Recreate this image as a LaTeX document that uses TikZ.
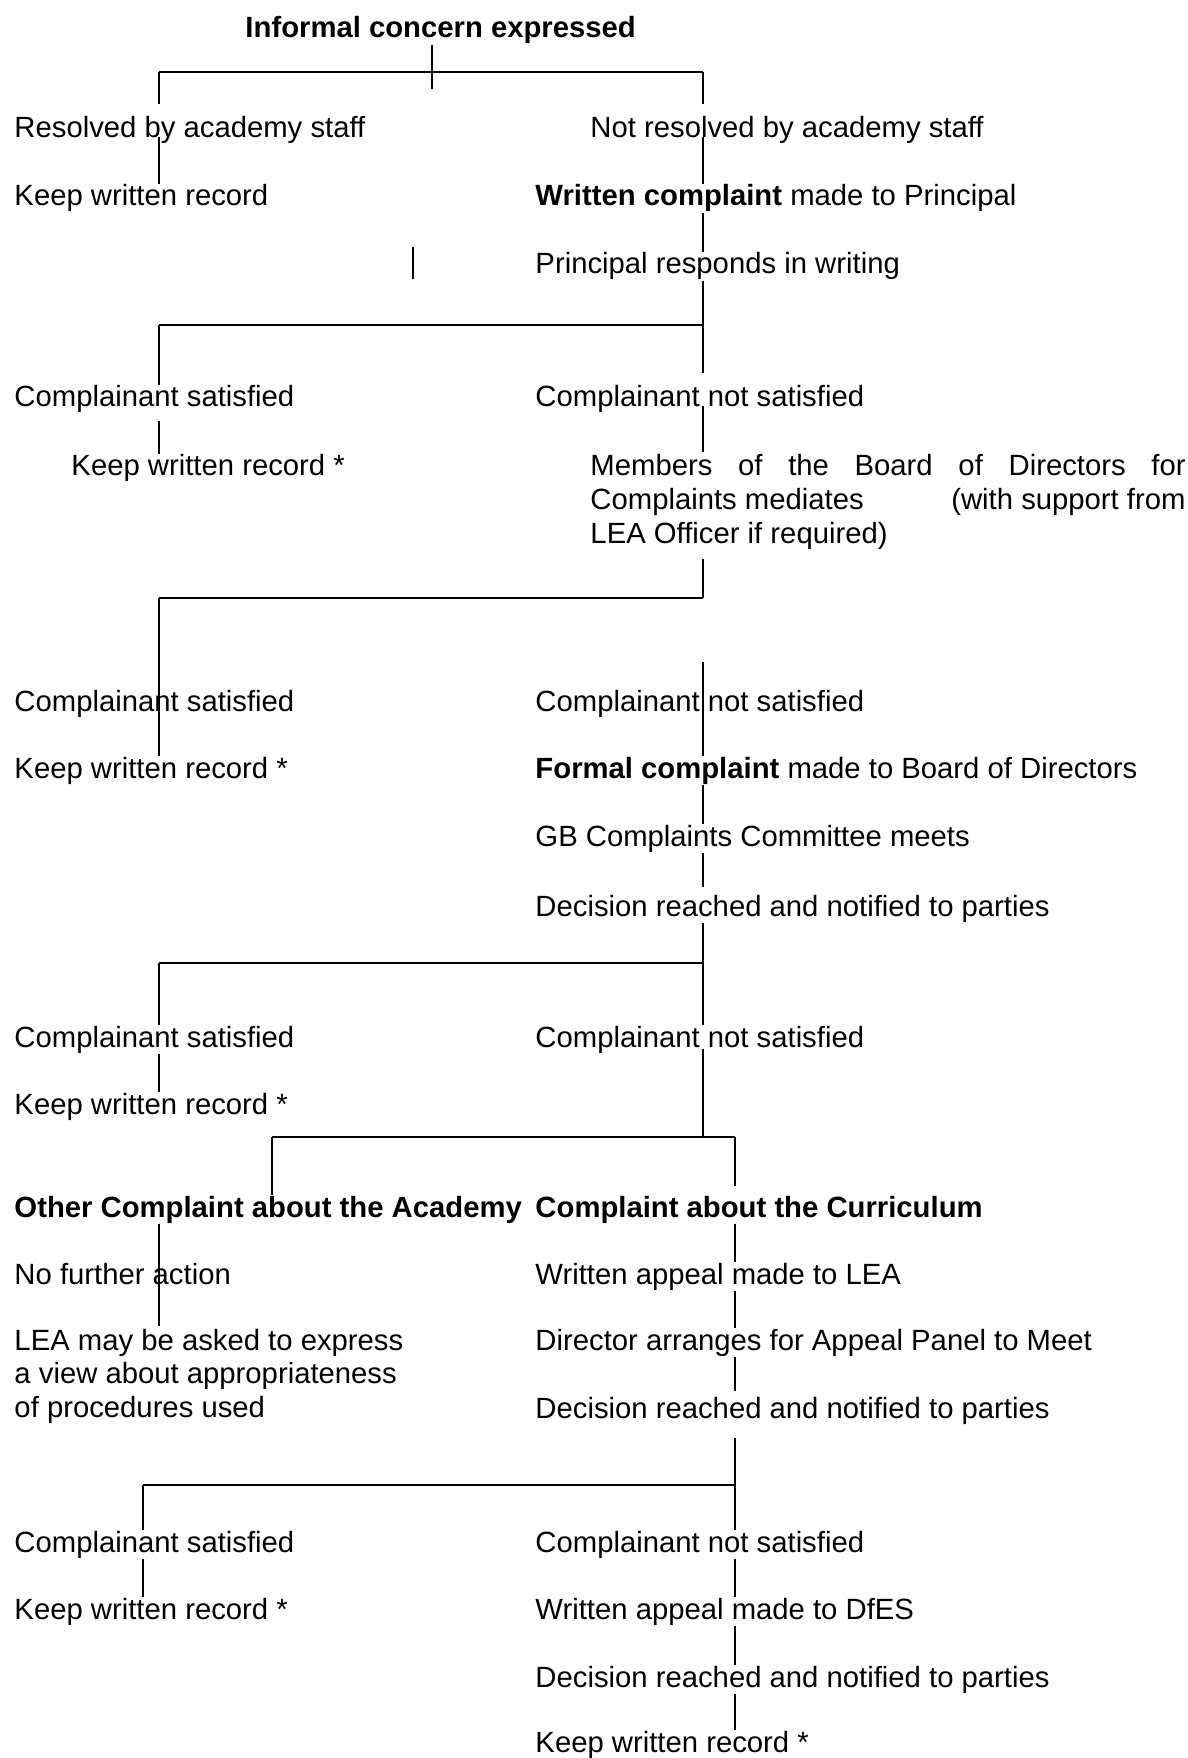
\documentclass[tikz,border=0pt]{standalone}
\usepackage{fontspec}
\setmainfont{Liberation Sans}
\newlength{\memwd}
\setlength{\memwd}{244pt}

\begin{document}
\begin{tikzpicture}[x=0.41pt,y=-0.41pt,
	txt/.style={anchor=base west, inner sep=0pt, font=\fontsize{12}{13.8}\selectfont},
	link/.style={line width=0.55pt},
	bar/.style={line width=0.95pt}]
			\useasboundingbox (0,0) rectangle (1188,1758);
			% texts
			\node[txt] at (245,38) (inf) {\textbf{Informal concern expressed}};
			\node[txt] at (14,138) (res1) {Resolved by academy staff};
			\node[txt] at (590,138) (nres1) {Not resolved by academy staff};
			\node[txt] at (14,206) (kwr1) {Keep written record};
			\node[txt] at (535,206) (wc1) {\textbf{Written complaint} made to Principal};
			\node[txt] at (535,274) (prw) {Principal responds in writing};
			\node[txt] at (14,407) (cs1) {Complainant satisfied};
			\node[txt] at (535,407) (cns1) {Complainant not satisfied};
			\node[txt] at (71,476) (kwr2) {Keep written record *};
			\node[txt] at (590,476) (mem) {\begin{tabular}[t]{@{}l@{}}\makebox[\memwd][s]{Members of the Board of Directors for}\\ \makebox[\memwd][s]{Complaints mediates\hfill(with support from}\\ LEA Officer if required)\end{tabular}};
			\node[txt] at (14,711) (cs2) {Complainant satisfied};
			\node[txt] at (535,711) (cns2) {Complainant not satisfied};
			\node[txt] at (14,778) (kwr3) {Keep written record *};
			\node[txt] at (535,778) (fc) {\textbf{Formal complaint} made to Board of Directors};
			\node[txt] at (535,846) (gb) {GB Complaints Committee meets};
			\node[txt] at (535,916) (dec1) {Decision reached and notified to parties};
			\node[txt] at (14,1047) (cs3) {Complainant satisfied};
			\node[txt] at (535,1047) (cns3) {Complainant not satisfied};
			\node[txt] at (14,1114) (kwr4) {Keep written record *};
			\node[txt] at (14,1217) (oth) {\textbf{Other Complaint about the Academy}};
			\node[txt] at (535,1217) (cur) {\textbf{Complaint about the Curriculum}};
			\node[txt] at (14,1284) (nfa) {No further action};
			\node[txt] at (535,1284) (wal) {Written appeal made to LEA};
			\node[txt] at (14,1350) (lea) {\begin{tabular}[t]{@{}l@{}}LEA may be asked to express\\ a view about appropriateness\\ of procedures used\end{tabular}};
			\node[txt] at (535,1350) (dir) {Director arranges for Appeal Panel to Meet};
			\node[txt] at (535,1418) (dec2) {Decision reached and notified to parties};
			\node[txt] at (14,1552) (cs4) {Complainant satisfied};
			\node[txt] at (535,1552) (cns4) {Complainant not satisfied};
			\node[txt] at (14,1619) (kwr5) {Keep written record *};
			\node[txt] at (535,1619) (wad) {Written appeal made to DfES};
			\node[txt] at (535,1687) (dec3) {Decision reached and notified to parties};
			\node[txt] at (535,1752) (kwr6) {Keep written record *};
			% bar ends
			\coordinate (stm) at (432,89);
			\coordinate (b1l) at (159,72); \coordinate (b1r) at (703,72);
			\coordinate (sty1) at (413,247); \coordinate (sty2) at (413,279);
			\coordinate (b2l) at (159,325); \coordinate (b2r) at (703,325);
			\coordinate (b3l) at (159,598); \coordinate (b3r) at (703,598);
			\coordinate (cn2t) at (703,662);
			\coordinate (b4l) at (159,963); \coordinate (b4r) at (703,963);
			\coordinate (b5l) at (272,1137); \coordinate (b5m) at (703,1137); \coordinate (b5r) at (735,1137);
			\coordinate (b6l) at (143,1485); \coordinate (b6r) at (735,1485);
			% informal stage
			\draw[bar] (b1l) -- (b1r);
			\draw[link] (inf.south -| stm) -- (stm);
			\draw[link,shorten >=5pt] (b1l) -- (b1l |- res1.north);
			\draw[link,shorten >=5pt] (b1r) -- (b1r |- nres1.north);
			\draw[link,shorten <=-3pt] (res1.south -| b1l) -- (kwr1.north -| b1l);
			\draw[link,shorten <=-3pt] (nres1.south -| b1r) -- (wc1.north -| b1r);
			\draw[link] (wc1.south -| b1r) -- (prw.north -| b1r);
			\draw[link] (sty1) -- (sty2);
			% principal
			\draw[bar] (b2l) -- (b2r);
			\draw[link,shorten >=5pt] (prw.south -| b2r) -- (cns1.north -| b2r);
			\draw[link] (b2l) -- (b2l |- cs1.north);
			\draw[link,shorten <=3pt] (cs1.south -| b2l) -- (kwr2.north -| b2l);
			\draw[link,shorten <=-3pt] (cns1.south -| b2r) -- (mem.north -| b2r);
			\draw[link,shorten <=2pt] (mem.south -| b3r) -- (b3r);
			% mediation
			\draw[bar] (b3l) -- (b3r);
			\draw[link] (b3l) -- (b3l |- kwr3.north);
			\draw[link] (cn2t) -- (cn2t |- fc.north);
			\draw[link] (fc.south -| b3r) -- (gb.north -| b3r);
			\draw[link,shorten >=3pt] (gb.south -| b3r) -- (dec1.north -| b3r);
			% board of directors
			\draw[bar] (b4l) -- (b4r);
			\draw[link] (dec1.south -| b4r) -- (cns3.north -| b4r);
			\draw[link] (b4l) -- (b4l |- cs3.north);
			\draw[link] (cs3.south -| b4l) -- (kwr4.north -| b4l);
			\draw[link,shorten <=-2pt] (cns3.south -| b4r) -- (b5m);
			\draw[bar] (b5l) -- (b5r);
			\draw[link] (b5l) -- (b5l |- oth.north);
			\draw[link,shorten >=4pt] (b5r) -- (b5r |- cur.north);
			\draw[link] (oth.south -| b4l) -- (lea.north -| b4l);
			\draw[link] (cur.south -| b5r) -- (wal.north -| b5r);
			\draw[link] (wal.south -| b5r) -- (dir.north -| b5r);
			\draw[link,shorten >=2pt] (dir.south -| b5r) -- (dec2.north -| b5r);
			% appeal
			\draw[bar] (b6l) -- (b6r);
			\draw[link,shorten <=5.5pt] (dec2.south -| b6r) -- (cns4.north -| b6r);
			\draw[link] (b6l) -- (b6l |- cs4.north);
			\draw[link] (cs4.south -| b6l) -- (kwr5.north -| b6l);
			\draw[link] (cns4.south -| b6r) -- (wad.north -| b6r);
			\draw[link] (wad.south -| b6r) -- (dec3.north -| b6r);
			\draw[link] (dec3.south -| b6r) -- (kwr6.north -| b6r);
\end{tikzpicture}
\end{document}
